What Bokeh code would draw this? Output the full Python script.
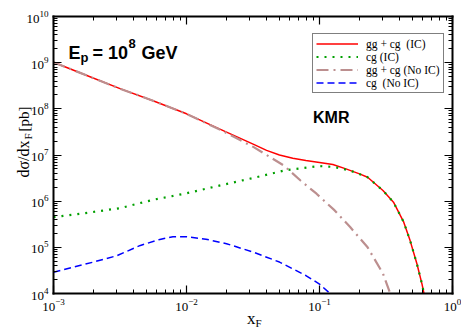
import math
from bokeh.plotting import figure
from bokeh.models import LogAxis, FixedTicker, Label, Legend, LegendItem, Range1d
from bokeh.embed import file_html
from bokeh.resources import INLINE

# ---- data ----
x_ic_total = [0.001, 0.0018, 0.0032, 0.0056, 0.01, 0.018, 0.032, 0.040, 0.050, 0.063,
              0.079, 0.10, 0.126, 0.158, 0.20, 0.23, 0.30, 0.36, 0.43, 0.48, 0.54, 0.59, 0.61]
y_ic_total = [1.02e9, 5.2e8, 2.7e8, 1.5e8, 7.8e7, 3.6e7, 1.7e7, 1.26e7, 1.0e7, 8.5e6,
              7.6e6, 6.9e6, 6.2e6, 5.0e6, 3.9e6, 3.3e6, 1.7e6, 9.5e5, 3.5e5, 1.4e5, 4.4e4, 1.6e4, 1.0e4]

x_ic_cg = [0.001, 0.0018, 0.0032, 0.0056, 0.01, 0.018, 0.032, 0.056, 0.10, 0.13,
           0.17, 0.23, 0.30, 0.36, 0.43, 0.48, 0.54, 0.59, 0.61]
y_ic_cg = [4.5e5, 5.6e5, 7.1e5, 1.07e6, 1.48e6, 2.2e6, 3.2e6, 4.7e6, 5.75e6, 5.5e6,
           4.6e6, 3.3e6, 1.7e6, 9.5e5, 3.5e5, 1.4e5, 4.4e4, 1.6e4, 1.0e4]

x_noic_total = [0.001, 0.0018, 0.0032, 0.0056, 0.01, 0.018, 0.032, 0.054, 0.072, 0.095,
                0.13, 0.17, 0.23, 0.30, 0.34]
y_noic_total = [1.02e9, 5.2e8, 2.7e8, 1.5e8, 7.8e7, 3.5e7, 1.48e7, 5.9e6, 2.8e6, 1.45e6,
                6.3e5, 2.75e5, 1.0e5, 2.7e4, 1.0e4]

x_noic_cg = [0.001, 0.002, 0.003, 0.0045, 0.0063, 0.0079, 0.01, 0.014, 0.02, 0.032,
             0.05, 0.079, 0.1, 0.12]
y_noic_cg = [2.9e4, 4.8e4, 6.6e4, 1.1e5, 1.48e5, 1.7e5, 1.7e5, 1.5e5, 1.2e5, 7.8e4,
             4.8e4, 2.45e4, 1.6e4, 1.0e4]

series_labels = ["gg + cg  (IC)", "cg (IC)", "gg + cg (No IC)", "cg  (No IC)"]
x_ticks = [1e-3, 1e-2, 1e-1, 1e0]
y_ticks = [1e4, 1e5, 1e6, 1e7, 1e8, 1e9, 1e10]

# ---- layout: the frame fills the canvas; the visible box is drawn by fixed axes ----
W, H = 461, 327
BL, BR, BT, BB = 53, 452, 16, 293          # box edges in canvas pixels
lx0, lx1 = math.log10(x_ticks[0]), math.log10(x_ticks[-1])
ly0, ly1 = math.log10(y_ticks[0]), math.log10(y_ticks[-1])
dx = (BR - BL) / (lx1 - lx0)
dy = (BB - BT) / (ly1 - ly0)
x_range = Range1d(10 ** (lx0 - BL / dx), 10 ** (lx1 + (W - BR) / dx))
y_range = Range1d(10 ** (ly0 - (H - BB) / dy), 10 ** (ly1 + BT / dy))

p = figure(width=W, height=H, x_axis_type="log", y_axis_type="log",
           x_range=x_range, y_range=y_range,
           output_backend="svg", toolbar_location=None, min_border=0)
p.xgrid.visible = False
p.ygrid.visible = False
p.outline_line_color = None
p.background_fill_color = "white"
p.border_fill_color = "white"

def minors(ticks):
    out = []
    for t in ticks[:-1]:
        out += [t * k for k in range(2, 10)]
    return out

def style_axis(ax, ticks, loc, bounds, labels=True):
    ax.fixed_location = loc
    ax.bounds = bounds
    ax.ticker = FixedTicker(ticks=ticks, minor_ticks=minors(ticks))
    ax.axis_line_width = 2
    ax.axis_line_color = "black"
    ax.axis_line_cap = "square"
    ax.major_tick_in = 8
    ax.major_tick_out = 0
    ax.minor_tick_in = 4
    ax.minor_tick_out = 0
    ax.major_tick_line_width = 1.2
    ax.minor_tick_line_width = 1
    ax.major_tick_line_color = "black"
    ax.minor_tick_line_color = "black"
    ax.major_label_text_font = "Liberation Serif"
    ax.major_label_text_font_size = "13px"
    ax.major_label_standoff = 5
    ax.major_label_text_color = "black" if labels else None

xb = (x_ticks[0], x_ticks[-1])
yb = (y_ticks[0], y_ticks[-1])
style_axis(p.xaxis[0], x_ticks, y_ticks[0], xb)
style_axis(p.yaxis[0], y_ticks, x_ticks[0], yb)
top = LogAxis()
right = LogAxis()
style_axis(top, x_ticks, y_ticks[-1], xb, labels=False)
style_axis(right, y_ticks, x_ticks[-1], yb, labels=False)
p.add_layout(top, "above")
p.add_layout(right, "right")

r1 = p.line(x_ic_total, y_ic_total, line_color="#ff0000", line_width=1.5)
r2 = p.line(x_ic_cg, y_ic_cg, line_color="#00a000", line_width=2.2, line_dash="2 6")
r3 = p.line(x_noic_total, y_noic_total, line_color="#bc8f8f", line_width=2.2, line_dash="12 5 2 5")
r4 = p.line(x_noic_cg, y_noic_cg, line_color="#0000ff", line_width=1.5, line_dash="7 4")

legend = Legend(items=[LegendItem(label=series_labels[i], renderers=[r])
                       for i, r in enumerate([r1, r2, r3, r4])],
                location=(312, H - 93))
legend.border_line_color = "black"
legend.border_line_width = 1
legend.background_fill_alpha = 1
legend.label_text_font = "Liberation Serif"
legend.label_text_font_size = "11.5px"
legend.label_text_color = "black"
legend.glyph_width = 42
legend.glyph_height = 13
legend.label_height = 13
legend.spacing = 0
legend.padding = 3
legend.margin = 0
legend.label_standoff = 8
p.add_layout(legend)

def lab(text, cx, cy, size, font="Liberation Serif", bold=False, angle=0.0):
    p.add_layout(Label(x=cx, y=H - cy, x_units="screen", y_units="screen",
                       text=text, text_font=font, text_font_size=f"{size}px",
                       text_font_style="bold" if bold else "normal",
                       text_align="left", text_baseline="alphabetic",
                       text_color="black", angle=angle))

# energy annotation
lab("E", 68, 52, 18, "Liberation Sans", True)
lab("p", 80, 57, 13, "Liberation Sans", True)
lab("= 10", 92, 52, 18, "Liberation Sans", True)
lab("8", 128, 43, 13, "Liberation Sans", True)
lab("GeV", 141, 52, 18, "Liberation Sans", True)
lab("KMR", 312.5, 116.7, 16, "Liberation Sans", True)

# x-axis title
lab("x", 246.5, 318, 17)
lab("F", 255, 322, 11)

# y-axis title (rotated)
a = math.pi / 2
lab("dσ/dx", 23, 177, 16, angle=a)
lab("F", 27, 139, 11, angle=a)
lab("[pb]", 23, 131, 15, angle=a)

open("out.html", "w").write(file_html(p, INLINE))
